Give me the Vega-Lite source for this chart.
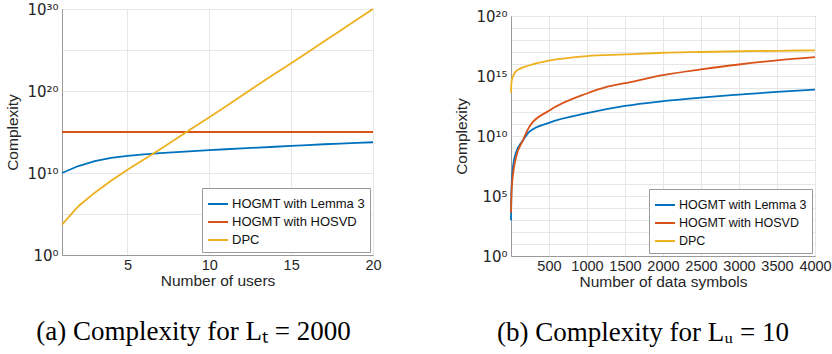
{
  "$schema": "https://vega.github.io/schema/vega-lite/v6.json",
  "background": "white",
  "padding": {"left": 5, "top": 1, "right": 6, "bottom": 4},
  "config": {
    "font": "Liberation Sans",
    "view": {"stroke": "#9a9a9a", "strokeWidth": 1},
    "axis": {
      "labelFont": "Liberation Sans",
      "titleFont": "Liberation Sans",
      "labelFontSize": 14.5,
      "titleFontSize": 15.5,
      "titleFontWeight": "normal",
      "labelColor": "#262626",
      "titleColor": "#262626",
      "domainColor": "#9a9a9a",
      "gridColor": "#e6e6e6",
      "tickColor": "#9a9a9a",
      "tickSize": 0,
      "labelPadding": 4,
      "labelFlush": false
    },
    "legend": {
      "orient": "bottom-right",
      "offset": 3,
      "strokeColor": "#9a9a9a",
      "fillColor": "white",
      "padding": 5,
      "labelFont": "Liberation Sans",
      "labelFontSize": 13,
      "labelColor": "#111",
      "symbolType": "stroke",
      "symbolStrokeWidth": 2,
      "symbolSize": 400,
      "rowPadding": -4,
      "labelOffset": 3
    },
    "title": {
      "font": "Liberation Serif",
      "fontSize": 27,
      "fontWeight": "normal",
      "color": "black",
      "orient": "bottom",
      "anchor": "middle",
      "frame": "bounds",
      "offset": 30
    }
  },
  "resolve": {"scale": {"color": "independent"}, "legend": {"color": "independent"}},
  "spacing": 72,
  "hconcat": [
    {
      "title": "(a) Complexity for Lₜ = 2000",
      "width": 311,
      "height": 246,
      "data": {
        "values": [
          {"x": 1, "y": 1e10, "s": "HOGMT with Lemma 3"},
          {"x": 2, "y": 7.1e10, "s": "HOGMT with Lemma 3"},
          {"x": 3, "y": 2.8e11, "s": "HOGMT with Lemma 3"},
          {"x": 4, "y": 7.1e11, "s": "HOGMT with Lemma 3"},
          {"x": 5, "y": 1.26e12, "s": "HOGMT with Lemma 3"},
          {"x": 6, "y": 1.9e12, "s": "HOGMT with Lemma 3"},
          {"x": 7, "y": 2.6e12, "s": "HOGMT with Lemma 3"},
          {"x": 8, "y": 3.5e12, "s": "HOGMT with Lemma 3"},
          {"x": 9, "y": 4.7e12, "s": "HOGMT with Lemma 3"},
          {"x": 10, "y": 6.3e12, "s": "HOGMT with Lemma 3"},
          {"x": 11, "y": 7.9e12, "s": "HOGMT with Lemma 3"},
          {"x": 12, "y": 1e13, "s": "HOGMT with Lemma 3"},
          {"x": 13, "y": 1.26e13, "s": "HOGMT with Lemma 3"},
          {"x": 14, "y": 1.58e13, "s": "HOGMT with Lemma 3"},
          {"x": 15, "y": 2.0e13, "s": "HOGMT with Lemma 3"},
          {"x": 16, "y": 2.5e13, "s": "HOGMT with Lemma 3"},
          {"x": 17, "y": 3.2e13, "s": "HOGMT with Lemma 3"},
          {"x": 18, "y": 3.8e13, "s": "HOGMT with Lemma 3"},
          {"x": 19, "y": 4.6e13, "s": "HOGMT with Lemma 3"},
          {"x": 20, "y": 5.6e13, "s": "HOGMT with Lemma 3"},
          {"x": 1, "y": 1e15, "s": "HOGMT with HOSVD"},
          {"x": 10, "y": 1e15, "s": "HOGMT with HOSVD"},
          {"x": 20, "y": 1e15, "s": "HOGMT with HOSVD"},
          {"x": 1, "y": 5.0e3, "s": "DPC"},
          {"x": 2, "y": 8.9e5, "s": "DPC"},
          {"x": 3, "y": 4.0e7, "s": "DPC"},
          {"x": 4, "y": 1.12e9, "s": "DPC"},
          {"x": 5, "y": 2.5e10, "s": "DPC"},
          {"x": 6, "y": 4.5e11, "s": "DPC"},
          {"x": 7, "y": 7.9e12, "s": "DPC"},
          {"x": 8, "y": 1.58e14, "s": "DPC"},
          {"x": 9, "y": 3.2e15, "s": "DPC"},
          {"x": 10, "y": 6.3e16, "s": "DPC"},
          {"x": 11, "y": 1.26e18, "s": "DPC"},
          {"x": 12, "y": 2.8e19, "s": "DPC"},
          {"x": 13, "y": 6.3e20, "s": "DPC"},
          {"x": 14, "y": 1.26e22, "s": "DPC"},
          {"x": 15, "y": 2.5e23, "s": "DPC"},
          {"x": 16, "y": 5.0e24, "s": "DPC"},
          {"x": 17, "y": 1.12e26, "s": "DPC"},
          {"x": 18, "y": 2.2e27, "s": "DPC"},
          {"x": 19, "y": 5.0e28, "s": "DPC"},
          {"x": 20, "y": 1e30, "s": "DPC"}
        ]
      },
      "mark": {"type": "line", "strokeWidth": 1.8},
      "encoding": {
        "x": {
          "field": "x", "type": "quantitative",
          "scale": {"domain": [1, 20], "nice": false, "zero": false},
          "axis": {"title": "Number of users", "values": [5, 10, 15, 20], "titlePadding": 2, "labelPadding": 3}
        },
        "y": {
          "field": "y", "type": "quantitative",
          "scale": {"type": "log", "domain": [1, 1e30], "nice": false},
          "axis": {
            "title": "Complexity",
            "labelFont": "DejaVu Sans",
            "labelFontSize": 15,
            "values": [1, 1e5, 1e10, 1e15, 1e20, 1e25, 1e30],
            "labelExpr": "datum.value == 1 ? '10⁰' : datum.value == 1e10 ? '10¹⁰' : datum.value == 1e20 ? '10²⁰' : datum.value == 1e30 ? '10³⁰' : ''",
            "titlePadding": 6
          }
        },
        "color": {
          "field": "s", "type": "nominal",
          "scale": {
            "domain": ["HOGMT with Lemma 3", "HOGMT with HOSVD", "DPC"],
            "range": ["#0072BD", "#D95319", "#EDB120"]
          },
          "legend": {"title": null}
        }
      }
    },
    {
      "spacing": -2,
      "resolve": {"scale": {"color": "independent"}, "legend": {"color": "independent"}},
      "vconcat": [
        {
          "width": 304,
          "height": 1,
          "data": {"values": []},
          "mark": {"type": "point", "opacity": 0},
          "view": {"stroke": null}
        },
        {
          "title": "(b) Complexity for Lᵤ = 10",
          "width": 304,
          "height": 240,
          "data": {
            "values": [
              {"x": 1, "y": 9.3e2, "s": "HOGMT with Lemma 3"},
              {"x": 5, "y": 1e5, "s": "HOGMT with Lemma 3"},
              {"x": 10, "y": 1e6, "s": "HOGMT with Lemma 3"},
              {"x": 22, "y": 1.26e7, "s": "HOGMT with Lemma 3"},
              {"x": 66, "y": 4.0e8, "s": "HOGMT with Lemma 3"},
              {"x": 155, "y": 4.0e9, "s": "HOGMT with Lemma 3"},
              {"x": 244, "y": 2.3e10, "s": "HOGMT with Lemma 3"},
              {"x": 500, "y": 1.26e11, "s": "HOGMT with Lemma 3"},
              {"x": 1000, "y": 7.9e11, "s": "HOGMT with Lemma 3"},
              {"x": 1500, "y": 3.2e12, "s": "HOGMT with Lemma 3"},
              {"x": 2000, "y": 7.9e12, "s": "HOGMT with Lemma 3"},
              {"x": 2500, "y": 1.58e13, "s": "HOGMT with Lemma 3"},
              {"x": 3000, "y": 2.8e13, "s": "HOGMT with Lemma 3"},
              {"x": 3500, "y": 4.8e13, "s": "HOGMT with Lemma 3"},
              {"x": 4000, "y": 7.4e13, "s": "HOGMT with Lemma 3"},
              {"x": 1, "y": 4.0e3, "s": "HOGMT with HOSVD"},
              {"x": 5, "y": 6.3e4, "s": "HOGMT with HOSVD"},
              {"x": 10, "y": 4.0e5, "s": "HOGMT with HOSVD"},
              {"x": 22, "y": 3.2e6, "s": "HOGMT with HOSVD"},
              {"x": 66, "y": 1.58e8, "s": "HOGMT with HOSVD"},
              {"x": 155, "y": 4.0e9, "s": "HOGMT with HOSVD"},
              {"x": 244, "y": 6.3e10, "s": "HOGMT with HOSVD"},
              {"x": 500, "y": 1.26e12, "s": "HOGMT with HOSVD"},
              {"x": 1000, "y": 3.5e13, "s": "HOGMT with HOSVD"},
              {"x": 1250, "y": 1.17e14, "s": "HOGMT with HOSVD"},
              {"x": 1500, "y": 2.5e14, "s": "HOGMT with HOSVD"},
              {"x": 2000, "y": 1.17e15, "s": "HOGMT with HOSVD"},
              {"x": 2500, "y": 3.5e15, "s": "HOGMT with HOSVD"},
              {"x": 3000, "y": 9.1e15, "s": "HOGMT with HOSVD"},
              {"x": 3500, "y": 2.0e16, "s": "HOGMT with HOSVD"},
              {"x": 4000, "y": 3.7e16, "s": "HOGMT with HOSVD"},
              {"x": 1, "y": 4.0e13, "s": "DPC"},
              {"x": 5, "y": 2.0e14, "s": "DPC"},
              {"x": 10, "y": 4.0e14, "s": "DPC"},
              {"x": 22, "y": 7.9e14, "s": "DPC"},
              {"x": 66, "y": 2.5e15, "s": "DPC"},
              {"x": 244, "y": 7.9e15, "s": "DPC"},
              {"x": 500, "y": 1.9e16, "s": "DPC"},
              {"x": 1000, "y": 4.6e16, "s": "DPC"},
              {"x": 1500, "y": 6.3e16, "s": "DPC"},
              {"x": 2000, "y": 8.7e16, "s": "DPC"},
              {"x": 2500, "y": 1e17, "s": "DPC"},
              {"x": 3000, "y": 1.15e17, "s": "DPC"},
              {"x": 3500, "y": 1.26e17, "s": "DPC"},
              {"x": 4000, "y": 1.38e17, "s": "DPC"}
            ]
          },
          "mark": {"type": "line", "strokeWidth": 1.8, "interpolate": "monotone"},
          "encoding": {
            "x": {
              "field": "x", "type": "quantitative",
              "scale": {"domain": [1, 4000], "nice": false, "zero": false},
              "axis": {"title": "Number of data symbols", "format": "d", "labelOverlap": false, "values": [500, 1000, 1500, 2000, 2500, 3000, 3500, 4000], "titlePadding": 2, "labelPadding": 3}
            },
            "y": {
              "field": "y", "type": "quantitative",
              "scale": {"type": "log", "domain": [1, 1e20], "nice": false},
              "axis": {
                "title": "Complexity",
                "labelFont": "DejaVu Sans",
                "labelFontSize": 15,
                "values": [1, 10, 100, 1e3, 1e4, 1e5, 1e6, 1e7, 1e8, 1e9, 1e10, 1e11, 1e12, 1e13, 1e14, 1e15, 1e16, 1e17, 1e18, 1e19, 1e20],
                "labelExpr": "datum.value == 1 ? '10⁰' : datum.value == 1e5 ? '10⁵' : datum.value == 1e10 ? '10¹⁰' : datum.value == 1e15 ? '10¹⁵' : datum.value == 1e20 ? '10²⁰' : ''",
                "titlePadding": 6
              }
            },
            "color": {
              "field": "s", "type": "nominal",
              "scale": {
                "domain": ["HOGMT with Lemma 3", "HOGMT with HOSVD", "DPC"],
                "range": ["#0072BD", "#D95319", "#EDB120"]
              },
              "legend": {"title": null, "labelFontSize": 12.5}
            }
          }
        }
      ]
    }
  ]
}
